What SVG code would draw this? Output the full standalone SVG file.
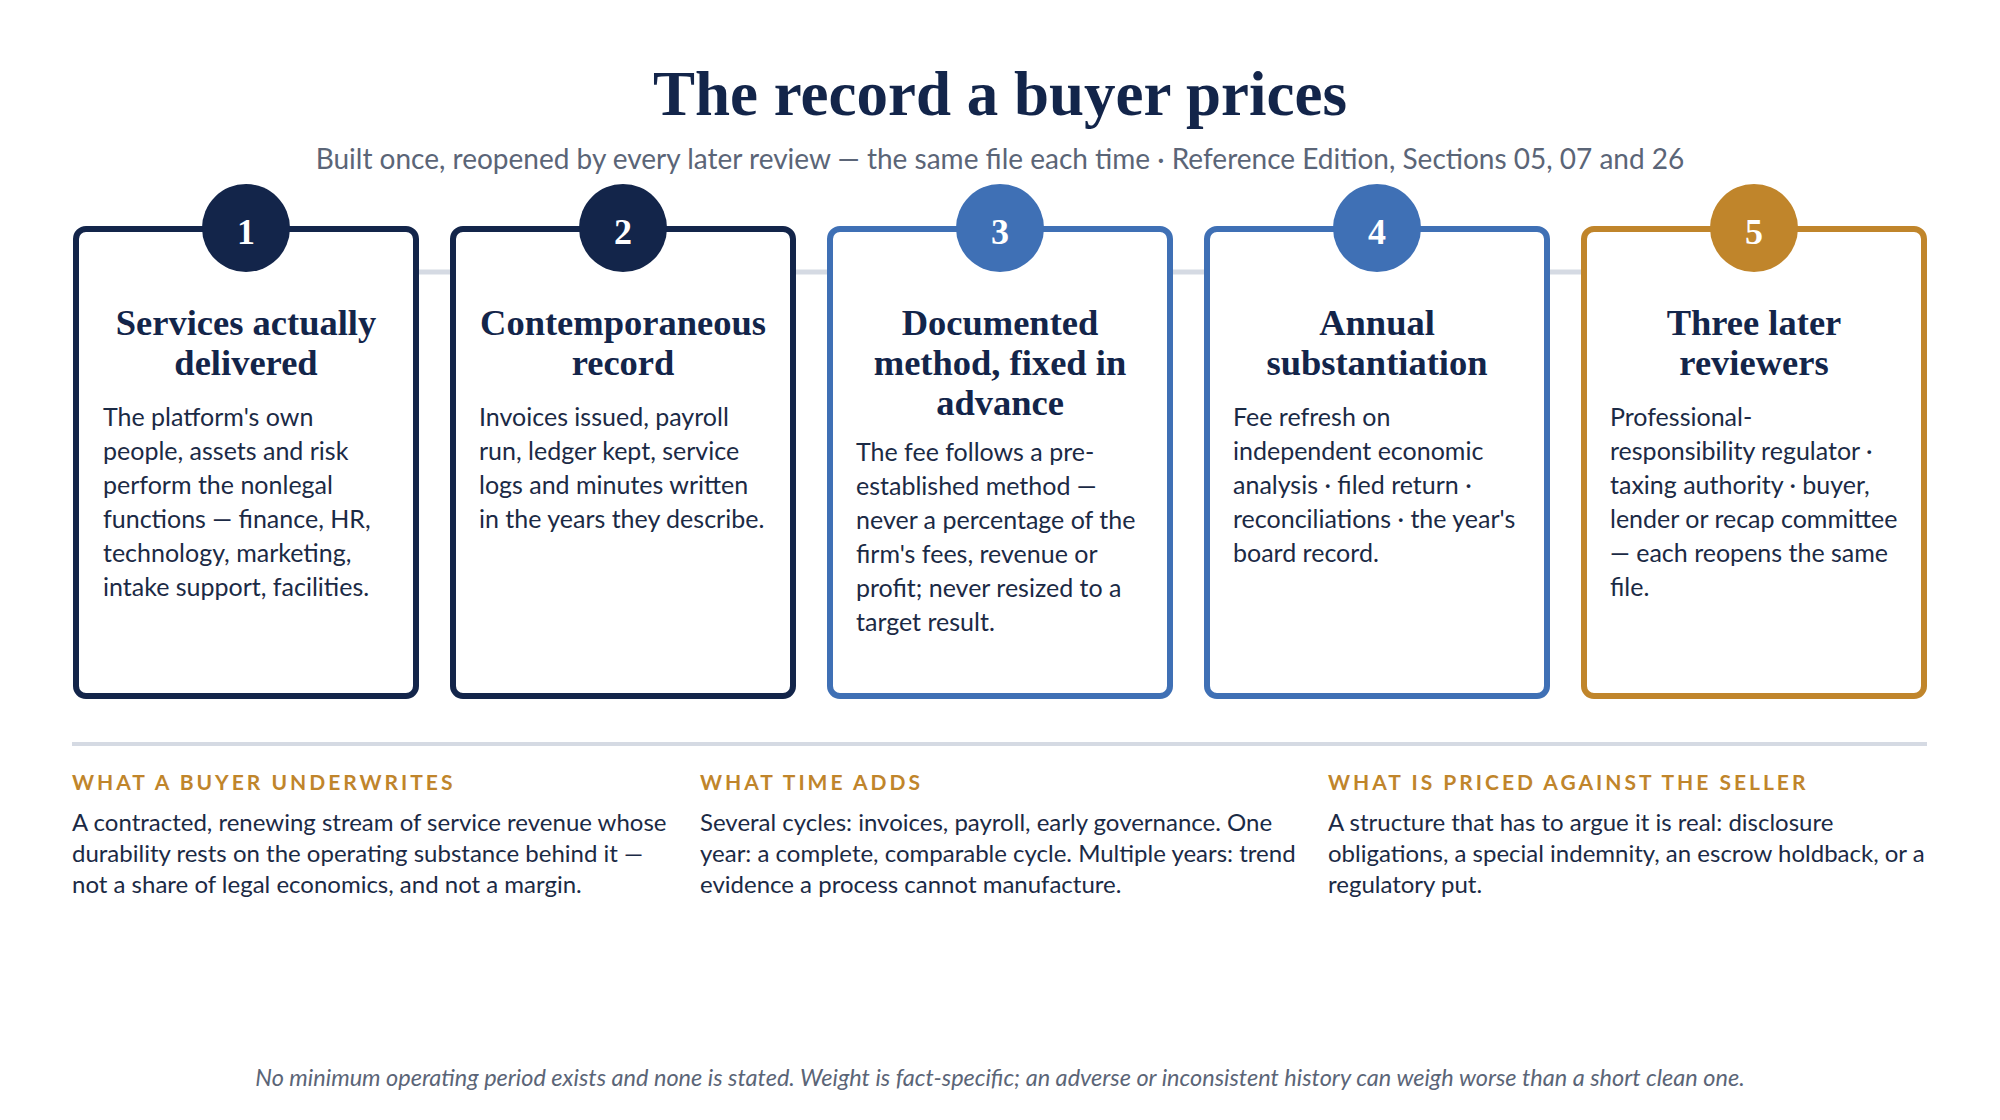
<svg xmlns="http://www.w3.org/2000/svg" width="2000" height="1120" viewBox="0 0 2000 1120">
<style>
.bg{fill:#ffffff}
.title{font-family:"Liberation Serif","DejaVu Serif",serif;font-weight:700;font-size:63px;fill:#13254a;text-anchor:middle}
.sub{font-family:Lato,"Noto Sans",sans-serif;font-size:28px;fill:#5b6577;text-anchor:middle}
.card{fill:#ffffff;stroke-width:6}
.navy{stroke:#13254a}
.blue{stroke:#3f70b5}
.gold{stroke:#c0852b}
.cnavy{fill:#13254a}
.cblue{fill:#3f70b5}
.cgold{fill:#c0852b}
.num{font-family:"Liberation Serif","DejaVu Serif",serif;font-weight:700;font-size:36px;fill:#ffffff;text-anchor:middle}
.ct{font-family:"Liberation Serif","DejaVu Serif",serif;font-weight:700;font-size:36.5px;fill:#13254a;text-anchor:middle}
.body{font-family:Lato,"Noto Sans",sans-serif;font-size:25px;fill:#1b2a45}
.hd{font-family:Lato,"Noto Sans",sans-serif;font-weight:700;font-size:21px;letter-spacing:3px;fill:#c0852b}
.bt{font-family:Lato,"Noto Sans",sans-serif;font-size:24px;fill:#1b2a45}
.foot{font-family:Lato,"Noto Sans",sans-serif;font-style:italic;font-size:23.5px;fill:#5b6577;text-anchor:middle}
.conn{stroke:#d5dae3;stroke-width:5;fill:none}
.rule{stroke:#d5dae3;stroke-width:4}
</style>
<rect class="bg" x="0" y="0" width="2000" height="1120"/>
<text class="title" x="1000" y="115">The record a buyer prices</text>
<text class="sub" x="1000" y="169">Built once, reopened by every later review — the same file each time · Reference Edition, Sections 05, 07 and 26</text>

<g id="connectors">
<line class="conn" x1="419" y1="272" x2="450" y2="272"/>
<line class="conn" x1="796" y1="272" x2="827" y2="272"/>
<line class="conn" x1="1173" y1="272" x2="1204" y2="272"/>
<line class="conn" x1="1550" y1="272" x2="1581" y2="272"/>
</g>

<g id="node-1">
<rect class="card navy" x="76" y="229" width="340" height="467" rx="10"/>
<circle class="cnavy" cx="246" cy="228" r="44"/>
<text class="num" x="246" y="244">1</text>
<text class="ct" x="246" y="335">Services actually</text>
<text class="ct" x="246" y="375">delivered</text>
<text class="body" x="103" y="426">The platform's own</text>
<text class="body" x="103" y="460">people, assets and risk</text>
<text class="body" x="103" y="494">perform the nonlegal</text>
<text class="body" x="103" y="528">functions — finance, HR,</text>
<text class="body" x="103" y="562">technology, marketing,</text>
<text class="body" x="103" y="596">intake support, facilities.</text>
</g>

<g id="node-2">
<rect class="card navy" x="453" y="229" width="340" height="467" rx="10"/>
<circle class="cnavy" cx="623" cy="228" r="44"/>
<text class="num" x="623" y="244">2</text>
<text class="ct" x="623" y="335">Contemporaneous</text>
<text class="ct" x="623" y="375">record</text>
<text class="body" x="479" y="426">Invoices issued, payroll</text>
<text class="body" x="479" y="460">run, ledger kept, service</text>
<text class="body" x="479" y="494">logs and minutes written</text>
<text class="body" x="479" y="528">in the years they describe.</text>
</g>

<g id="node-3">
<rect class="card blue" x="830" y="229" width="340" height="467" rx="10"/>
<circle class="cblue" cx="1000" cy="228" r="44"/>
<text class="num" x="1000" y="244">3</text>
<text class="ct" x="1000" y="335">Documented</text>
<text class="ct" x="1000" y="375">method, fixed in</text>
<text class="ct" x="1000" y="415">advance</text>
<text class="body" x="856" y="461">The fee follows a pre-</text>
<text class="body" x="856" y="495">established method —</text>
<text class="body" x="856" y="529">never a percentage of the</text>
<text class="body" x="856" y="563">firm's fees, revenue or</text>
<text class="body" x="856" y="597">profit; never resized to a</text>
<text class="body" x="856" y="631">target result.</text>
</g>

<g id="node-4">
<rect class="card blue" x="1207" y="229" width="340" height="467" rx="10"/>
<circle class="cblue" cx="1377" cy="228" r="44"/>
<text class="num" x="1377" y="244">4</text>
<text class="ct" x="1377" y="335">Annual</text>
<text class="ct" x="1377" y="375">substantiation</text>
<text class="body" x="1233" y="426">Fee refresh on</text>
<text class="body" x="1233" y="460">independent economic</text>
<text class="body" x="1233" y="494">analysis · filed return ·</text>
<text class="body" x="1233" y="528">reconciliations · the year's</text>
<text class="body" x="1233" y="562">board record.</text>
</g>

<g id="node-5">
<rect class="card gold" x="1584" y="229" width="340" height="467" rx="10"/>
<circle class="cgold" cx="1754" cy="228" r="44"/>
<text class="num" x="1754" y="244">5</text>
<text class="ct" x="1754" y="335">Three later</text>
<text class="ct" x="1754" y="375">reviewers</text>
<text class="body" x="1610" y="426">Professional-</text>
<text class="body" x="1610" y="460">responsibility regulator ·</text>
<text class="body" x="1610" y="494">taxing authority · buyer,</text>
<text class="body" x="1610" y="528">lender or recap committee</text>
<text class="body" x="1610" y="562">— each reopens the same</text>
<text class="body" x="1610" y="596">file.</text>
</g>

<line class="rule" x1="72" y1="744" x2="1927" y2="744"/>

<g id="col-1">
<text class="hd" x="72" y="790">WHAT A BUYER UNDERWRITES</text>
<text class="bt" x="72" y="831">A contracted, renewing stream of service revenue whose</text>
<text class="bt" x="72" y="862">durability rests on the operating substance behind it —</text>
<text class="bt" x="72" y="893">not a share of legal economics, and not a margin.</text>
</g>
<g id="col-2">
<text class="hd" x="700" y="790">WHAT TIME ADDS</text>
<text class="bt" x="700" y="831">Several cycles: invoices, payroll, early governance. One</text>
<text class="bt" x="700" y="862">year: a complete, comparable cycle. Multiple years: trend</text>
<text class="bt" x="700" y="893">evidence a process cannot manufacture.</text>
</g>
<g id="col-3">
<text class="hd" x="1328" y="790">WHAT IS PRICED AGAINST THE SELLER</text>
<text class="bt" x="1328" y="831">A structure that has to argue it is real: disclosure</text>
<text class="bt" x="1328" y="862">obligations, a special indemnity, an escrow holdback, or a</text>
<text class="bt" x="1328" y="893">regulatory put.</text>
</g>

<text class="foot" x="1000" y="1086">No minimum operating period exists and none is stated. Weight is fact-specific; an adverse or inconsistent history can weigh worse than a short clean one.</text>
</svg>
